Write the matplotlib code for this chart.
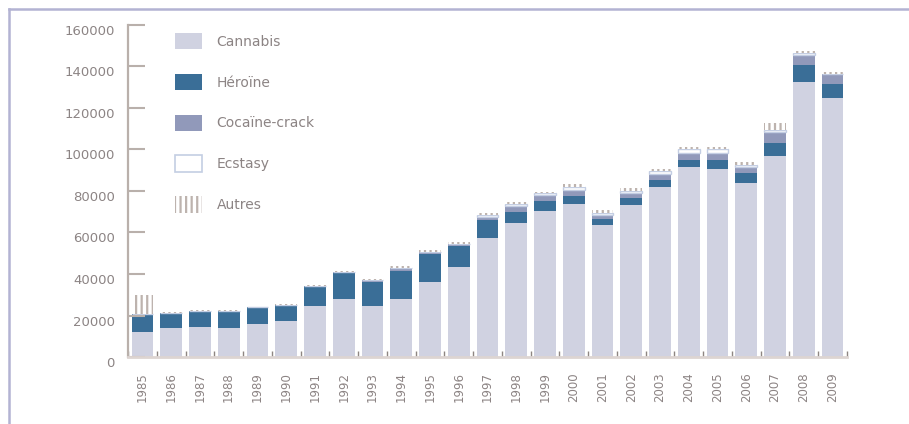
"""Interpellations pour usage de stupéfiants, 1985-2009, par produit (barres empilées)."""

import matplotlib

matplotlib.use("Agg")
import matplotlib.pyplot as plt
from matplotlib.lines import Line2D
from matplotlib.patches import Patch

YEARS = [str(y) for y in range(1985, 2010)]

CANNABIS = [12200, 13800, 14300, 13800, 15800, 17400, 24400, 28000, 24600, 28000,
            36300, 43200, 57200, 64400, 70500, 73600, 63600, 73300, 81800, 91700,
            90600, 84000, 96900, 132700, 124700]
HEROINE = [8400, 7600, 8000, 8400, 8200, 7700, 9600, 12300, 11700, 13600,
           13300, 10300, 8800, 5600, 4700, 4100, 2900, 3200, 3500, 3300,
           4400, 4500, 6400, 8000, 6700]
COCAINE = [0, 0, 0, 0, 0, 0, 300, 600, 700, 1300,
           1000, 900, 1600, 2900, 2900, 2800, 1900, 2700, 2900, 3200,
           3200, 3200, 5300, 4900, 4900]
ECSTASY = [0, 0, 0, 0, 0, 0, 0, 0, 0, 0,
           0, 0, 800, 800, 800, 1600, 1200, 1000, 1200, 1800,
           1800, 1000, 1000, 900, 300]
AUTRES = [9300, 300, 300, 300, 300, 300, 300, 700, 700, 1000,
          1000, 1000, 1200, 1000, 800, 1100, 1300, 1100, 1100, 1100,
          1100, 1100, 3000, 1100, 900]

Y_TICKS = [0, 20000, 40000, 60000, 80000, 100000, 120000, 140000, 160000]

C_CANNABIS = "#d0d2e1"
C_HEROINE = "#3a6e97"
C_COCAINE = "#9199ba"
C_ECSTASY_EDGE = "#c4cee3"
C_AUTRES = "#bdb3ae"
C_AXIS = "#b9b0ab"
C_TEXT = "#8c8484"
C_FRAME = "#b3b3d3"

plt.rcParams["hatch.linewidth"] = 1.6

fig = plt.figure(figsize=(9.09, 4.24), dpi=100)
ax = fig.add_axes([128 / 909, 67 / 424, 719 / 909, 332 / 424])

x = list(range(len(YEARS)))
w = 0.755
bottom = [0] * len(YEARS)


def stack(values, **kw):
    global bottom
    ax.bar(x, values, w, bottom=bottom, **kw)
    bottom = [b + v for b, v in zip(bottom, values)]


stack(CANNABIS, color=C_CANNABIS, linewidth=0)
stack(HEROINE, color=C_HEROINE, linewidth=0)
stack(COCAINE, color=C_COCAINE, linewidth=0)
stack(ECSTASY, facecolor="white", edgecolor=C_ECSTASY_EDGE, linewidth=1)
stack(AUTRES, facecolor="white", edgecolor=C_AUTRES, hatch="|||", linewidth=0)

ax.set_xlim(-0.5, len(YEARS) - 0.5)
ax.set_ylim(0, 160000)

for s in ["top", "right"]:
    ax.spines[s].set_visible(False)
ax.spines["left"].set_color(C_AXIS)
ax.spines["left"].set_linewidth(1.6)
ax.spines["bottom"].set_color("#ddd5d2")
ax.spines["bottom"].set_linewidth(2)

ax.set_yticks(Y_TICKS, [f"{v}" for v in Y_TICKS])
ax.tick_params(axis="y", direction="in", length=12.5, width=1.5, color=C_AXIS,
               pad=9.5, labelsize=9.5, labelcolor=C_TEXT)
for lab in ax.get_yticklabels():
    lab.set_verticalalignment("top")

ax.set_xticks(x, YEARS, rotation=90)
ax.set_xticks([i - 0.5 for i in range(len(YEARS) + 1)], minor=True)
ax.tick_params(axis="x", which="major", length=0, pad=11, labelsize=8.5,
               labelcolor=C_TEXT)
ax.tick_params(axis="x", which="minor", direction="in", length=4, width=1,
               color="#8e8682")

handles = [
    Patch(facecolor=C_CANNABIS, linewidth=0),
    Patch(facecolor=C_HEROINE, linewidth=0),
    Patch(facecolor=C_COCAINE, linewidth=0),
    Patch(facecolor="white", edgecolor=C_ECSTASY_EDGE, linewidth=1.2),
    Patch(facecolor="white", edgecolor=C_AUTRES, hatch="|||", linewidth=0),
]
labels = ["Cannabis", "Héroïne", "Cocaïne-crack", "Ecstasy", "Autres"]
fig.legend(handles, labels, loc="upper left",
           bbox_to_anchor=(175 / 909, 1 - 33 / 424), frameon=False,
           fontsize=10, labelcolor=C_TEXT, handlelength=1.95, handleheight=1.45,
           handletextpad=1.05, labelspacing=1.75, borderpad=0, borderaxespad=0)

# thin frame on the left and top edges
fig.add_artist(Line2D([8.5 / 909, 8.5 / 909], [0, 1 - 9 / 424],
                      color=C_FRAME, lw=1.8, transform=fig.transFigure))
fig.add_artist(Line2D([8.5 / 909, 1], [1 - 9 / 424, 1 - 9 / 424],
                      color=C_FRAME, lw=1.8, transform=fig.transFigure))

fig.savefig("out.png", dpi=100)
